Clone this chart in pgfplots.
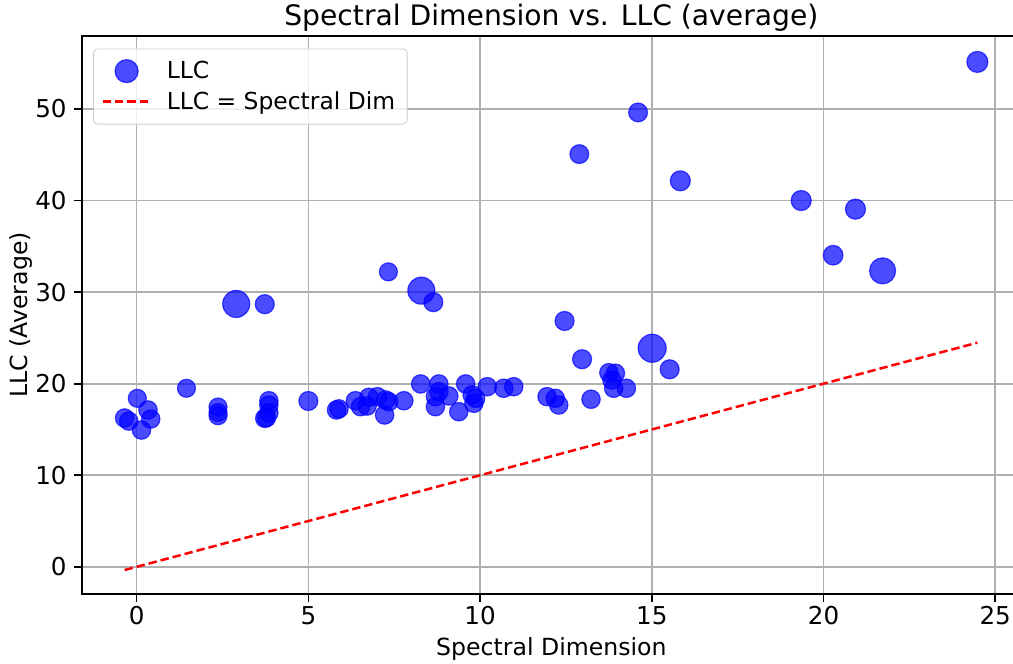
\documentclass[border=0pt]{standalone}
\usepackage{pgfplots}
\pgfplotsset{compat=1.18}
\usepackage{pgfplotstable}
\usepackage{fontspec}
\setmainfont{DejaVu Sans}

\pgfplotsset{
  markslegend/.style={legend image code/.code={\draw[mark repeat=2,mark phase=2,##1] plot coordinates {(0pt,0pt) (12pt,0pt) (24pt,0pt)};}},
  linelegend/.style={legend image code/.code={\draw[##1] (0pt,0pt) -- (24pt,0pt);}},
}

% spectral dimension, average LLC, marker radius (pt)
\pgfplotstableread{
x y r
-0.35 16.25 4.6
-0.23 15.92 4.6
0.02 18.40 4.5
0.33 17.13 4.6
0.41 16.14 4.6
0.14 14.94 4.6
1.45 19.50 4.5
2.37 17.45 4.5
2.37 16.85 4.5
2.37 16.50 4.5
2.90 28.71 6.75
3.73 28.68 4.75
3.85 18.14 4.6
3.85 17.67 4.6
3.85 16.83 4.6
3.78 16.28 4.6
3.73 16.22 4.6
5.00 18.11 4.75
5.82 17.13 4.6
5.89 17.25 4.6
6.37 18.14 4.6
6.52 17.49 4.6
6.71 17.56 4.6
6.76 18.51 4.6
7.01 18.58 4.6
7.25 18.22 4.6
7.34 18.03 4.6
7.22 16.58 4.6
7.78 18.14 4.6
8.27 19.97 4.6
8.80 19.97 4.6
8.80 19.13 4.6
8.70 18.58 4.6
8.70 17.49 4.6
9.09 18.66 4.6
9.38 16.94 4.6
9.58 19.97 4.6
9.77 18.77 4.6
9.82 17.86 4.6
9.87 18.40 4.6
10.21 19.67 4.6
10.69 19.50 4.6
10.98 19.67 4.6
11.95 18.58 4.6
12.19 18.40 4.6
12.29 17.67 4.6
12.97 22.67 4.75
13.23 18.30 4.6
13.75 21.20 4.6
13.94 21.14 4.6
13.84 20.40 4.6
13.89 19.50 4.6
14.26 19.50 4.6
15.01 23.87 7.0
15.52 21.57 4.75
7.33 32.21 4.5
8.29 30.16 6.75
8.64 28.90 4.75
12.46 26.85 4.75
12.89 45.07 4.7
14.60 49.62 4.7
15.83 42.15 5.0
19.35 40.00 5.0
20.28 34.03 4.9
20.93 39.06 5.0
21.72 32.32 6.5
24.48 55.14 5.25
}\llcdata

\begin{document}
\begin{tikzpicture}
\begin{axis}[
  name=ax,
  set layers,
  scale only axis,
  width=469.65pt, height=279.3pt,
  xmin=-1.6, xmax=25.75,
  ymin=-3, ymax=58,
  xtick={0,5,...,25},
  ytick={0,10,...,50},
  grid=major,
  major grid style={line width=0.83pt, color=black!31},
  axis line style={line width=0.83pt},
  tick style={line width=0.83pt, black},
  major tick length=3.65pt,
  tick align=outside,
  tick pos=left,
  /pgf/number format/assume math mode=true,
  xticklabel style={font=\fontsize{12.3}{14}\selectfont, anchor=base, inner sep=0pt, yshift=-11.7pt},
  yticklabel style={font=\fontsize{12.3}{14}\selectfont, anchor=east, inner sep=0pt, xshift=-3.7pt},
  every axis title shift=0pt,
  title={Spectral Dimension vs. LLC (average)},
  title style={font=\fontsize{14.1}{16}\selectfont, at={(axis description cs:0.5,1.019)}, anchor=base},
  xlabel={Spectral Dimension},
  xlabel style={font=\fontsize{11.8}{14}\selectfont, at={(axis description cs:0.5,-0.1087)}, anchor=base},
  ylabel={LLC (Average)},
  ylabel style={font=\fontsize{11.8}{14}\selectfont, at={(axis description cs:-0.058,0.5)}, rotate=0, anchor=base},
  legend cell align=left,
  legend style={at={(0.012,0.977)}, anchor=north west, draw=black!20, rounded corners=2pt,
    fill=white, fill opacity=0.8, text opacity=1, font=\fontsize{11.7}{14}\selectfont,
    inner xsep=4pt, inner ysep=4pt, row sep=1pt, column sep=5.5pt},
]
\addlegendimage{only marks, mark=*, mark size=5.75pt,
  mark options={draw=blue, fill=blue, fill opacity=0.7, draw opacity=0.7, line width=0.6pt},
  markslegend}
\addlegendentry{LLC}

\addplot[scatter, only marks, mark=*, on layer=axis background,
  scatter/use mapped color={draw=blue, fill=blue, fill opacity=0.7, draw opacity=0.7, line width=0.6pt},
  visualization depends on={\thisrow{r}\as\perpointmarksize},
  scatter/@pre marker code/.append style={/tikz/mark size=\perpointmarksize},
  forget plot] table[x=x, y=y] {\llcdata};

\addplot[red, line width=1.25pt, dash pattern=on 4.2pt off 2pt, linelegend]
  coordinates {(-0.35,-0.35) (24.48,24.48)};
\addlegendentry{LLC = Spectral Dim}
\end{axis}
\pgfresetboundingbox
\path[use as bounding box] ([shift={(-40.85pt,-34.85pt)}]ax.south west) rectangle ([shift={(465.65pt,297.15pt)}]ax.south west);
\end{tikzpicture}
\end{document}
